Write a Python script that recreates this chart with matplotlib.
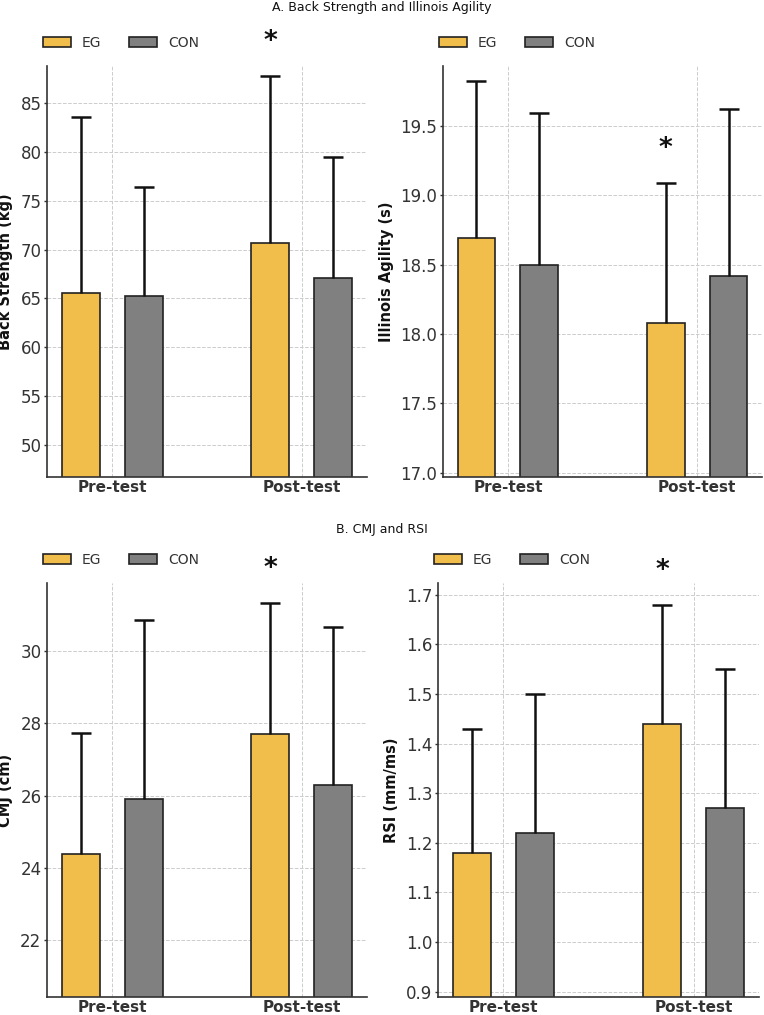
import matplotlib
matplotlib.use("Agg")
import matplotlib.pyplot as plt
import numpy as np

groups = ["Pre-test", "Post-test"]
series = ["EG", "CON"]

back_eg = [65.6, 70.7]
back_eg_sd = [18.0, 17.1]
back_con = [65.3, 67.1]
back_con_sd = [11.1, 12.4]

ill_eg = [18.69, 18.08]
ill_eg_sd = [1.13, 1.01]
ill_con = [18.50, 18.42]
ill_con_sd = [1.09, 1.20]

cmj_eg = [24.4, 27.7]
cmj_eg_sd = [3.33, 3.61]
cmj_con = [25.9, 26.3]
cmj_con_sd = [4.94, 4.35]

rsi_eg = [1.18, 1.44]
rsi_eg_sd = [0.25, 0.24]
rsi_con = [1.22, 1.27]
rsi_con_sd = [0.28, 0.28]

star_group = [1, 1, 1, 1]  # index of group with significance star (EG bar)

EG_COLOR = "#F2BE4B"
CON_COLOR = "#808080"
TXT = "#333333"

W, H = 764, 1015
fig = plt.figure(figsize=(W / 100, H / 100), dpi=100)


def rect(x0, y0, w, h):
    return [x0 / W, 1 - (y0 + h) / H, w / W, h / H]


panels = [
    (rect(47, 66, 320, 411), back_eg, back_eg_sd, back_con, back_con_sd,
     "Back Strength (kg)", (46.7, 88.82), [50, 55, 60, 65, 70, 75, 80, 85], "{:.0f}"),
    (rect(443, 66, 319, 411), ill_eg, ill_eg_sd, ill_con, ill_con_sd,
     "Illinois Agility (s)", (16.97, 19.93), [17.0, 17.5, 18.0, 18.5, 19.0, 19.5], "{:.1f}"),
    (rect(47, 583, 320, 414), cmj_eg, cmj_eg_sd, cmj_con, cmj_con_sd,
     "CMJ (cm)", (20.44, 31.87), [22, 24, 26, 28, 30], "{:.0f}"),
    (rect(438, 583, 321, 414), rsi_eg, rsi_eg_sd, rsi_con, rsi_con_sd,
     "RSI (mm/ms)", (0.889, 1.724), [0.9, 1.0, 1.1, 1.2, 1.3, 1.4, 1.5, 1.6, 1.7], "{:.1f}"),
]

x = np.arange(len(groups))
width = 0.2
off = 0.166


def hide_lower_caps(container, heights):
    eb = container.errorbar
    if eb is None:
        return
    _, caplines, _ = eb.lines
    for cl in caplines:
        yd = np.asarray(cl.get_ydata(), dtype=float)
        if np.allclose(yd, np.asarray(heights, dtype=float)):
            cl.set_visible(False)


for i, (pos, eg, egsd, con, consd, ylabel, ylim, yticks, fmt) in enumerate(panels):
    ax = fig.add_axes(pos)
    ax.set_axisbelow(True)
    ax.grid(True, linestyle="--", color="#cccccc", linewidth=0.7)
    ekw = dict(elinewidth=1.8, capthick=1.8, ecolor="#111111")
    b1 = ax.bar(x - off, eg, width, color=EG_COLOR, edgecolor="#222222", linewidth=1.2,
                yerr=[np.zeros(len(eg)), egsd], capsize=7, error_kw=ekw, label=series[0])
    b2 = ax.bar(x + off, con, width, color=CON_COLOR, edgecolor="#222222", linewidth=1.2,
                yerr=[np.zeros(len(con)), consd], capsize=7, error_kw=ekw, label=series[1])
    hide_lower_caps(b1, eg)
    hide_lower_caps(b2, con)
    ax.set_ylim(*ylim)
    ax.set_xlim(-0.343, 1.343)
    ax.set_xticks(x)
    ax.set_xticklabels(groups, fontsize=11, fontweight="bold", color="#111111")
    ax.set_yticks(yticks)
    ax.set_yticklabels([fmt.format(v) for v in yticks], fontsize=12, color=TXT)
    ax.set_ylabel(ylabel, fontsize=10.5, fontweight="bold", color="#111111", labelpad=5)
    for s in ["top", "right"]:
        ax.spines[s].set_visible(False)
    for s in ["left", "bottom"]:
        ax.spines[s].set_color(TXT)
        ax.spines[s].set_linewidth(1.2)
    ax.tick_params(axis="y", colors=TXT, length=2.5, width=1, pad=1.5)
    ax.tick_params(axis="x", colors=TXT, length=0, pad=2.5)
    g = star_group[i]
    ax.annotate("*", xy=(x[g] - off, eg[g] + egsd[g]), xytext=(0, 15),
                textcoords="offset points", ha="center", va="bottom",
                fontsize=19, fontweight="bold", color="#111111", annotation_clip=False)
    ax.legend(loc="lower left", bbox_to_anchor=(-0.03, 1.025), ncol=2, frameon=False,
              fontsize=10, handlelength=2, handleheight=0.7, columnspacing=2.0,
              labelcolor=TXT, borderaxespad=0)

fig.text(0.5, 1 - 11 / H, "A. Back Strength and Illinois Agility", ha="center",
         va="baseline", fontsize=9, color="#111111")
fig.text(0.5, 1 - 533 / H, "B. CMJ and RSI", ha="center", va="baseline",
         fontsize=9, color="#111111")

fig.savefig("out.png", dpi=100)
